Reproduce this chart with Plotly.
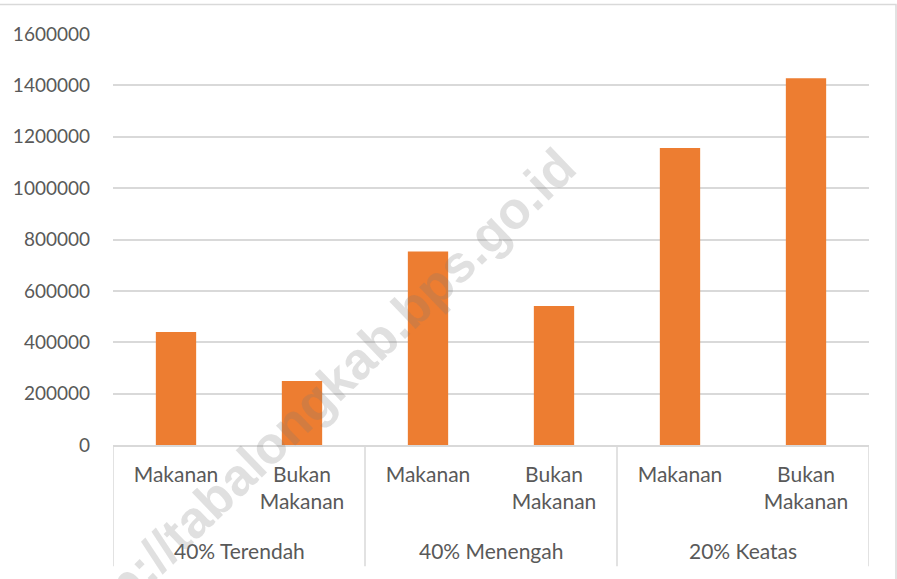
import plotly.graph_objects as go

groups = ["40% Terendah", "40% Menengah", "20% Keatas"]
items = ["Makanan", "Bukan<br>Makanan"]
values = [440000, 249000, 753000, 541000, 1156000, 1428000]
y_ticks = [0, 200000, 400000, 600000, 800000, 1000000, 1200000, 1400000, 1600000]
watermark = "http://tabalongkab.bps.go.id"

x_pos = list(range(len(values)))
tick_text = [it for g in groups for it in items]

FONT = "Lato"
TXT = "#595959"
GRID = "#d9d9d9"

# pixel geometry helpers
L, R, T, B = 113, 28, 33.5, 133.5
W, H = 897, 579
pw, ph = W - L - R, H - T - B
def px(xp): return (xp - L) / pw
def py(yp): return (H - B - yp) / ph

fig = go.Figure()
fig.add_trace(go.Bar(x=x_pos, y=values, width=0.32,
                     marker=dict(color="#ED7D31", line=dict(width=0)),
                     hoverinfo="y"))

shapes = []
for d in [-0.5, 1.5, 3.5, 5.5]:
    shapes.append(dict(type="line", xref="x", yref="paper", x0=d, x1=d,
                       y0=0, y1=py(567), line=dict(color=GRID, width=1.5)))
shapes.append(dict(type="rect", xref="paper", yref="paper",
                   x0=px(-5), x1=px(896), y0=py(590), y1=py(4),
                   line=dict(color=GRID, width=1.5), fillcolor="rgba(0,0,0,0)", layer="below"))

annotations = []
for i, g in enumerate(groups):
    annotations.append(dict(x=2 * i + 0.5, y=py(551), xref="x", yref="paper",
                            text=g, showarrow=False, yanchor="middle",
                            font=dict(family=FONT, size=21, color=TXT)))
annotations.append(dict(x=px(316), y=py(400), xref="paper", yref="paper",
                        text="<b>" + watermark + "</b>", showarrow=False,
                        textangle=-44, xanchor="center", yanchor="middle",
                        font=dict(family="Liberation Sans", size=52,
                                  color="rgba(120,120,120,0.23)")))

fig.update_layout(
    width=W, height=H,
    margin=dict(l=L, r=R, t=T, b=B, pad=0),
    paper_bgcolor="white", plot_bgcolor="white",
    showlegend=False,
    font=dict(family=FONT, size=21, color=TXT),
    shapes=shapes, annotations=annotations,
    xaxis=dict(range=[-0.5, 5.5], tickmode="array", tickvals=x_pos,
               ticktext=tick_text, showgrid=False, zeroline=False,
               showline=True, linecolor=GRID, linewidth=1.5,
               ticks="", ticklabelstandoff=10,
               tickfont=dict(family=FONT, size=21, color=TXT)),
    yaxis=dict(range=[0, 1600000], tickmode="array", tickvals=y_ticks,
               ticktext=[str(v) for v in y_ticks],
               showgrid=True, gridcolor=GRID, gridwidth=1.5,
               zeroline=False, showline=False, ticks="",
               ticklabelstandoff=22,
               tickfont=dict(family=FONT, size=19, color=TXT)),
)

fig.write_html("out.html", config={"displayModeBar": False},
               post_script="document.body.style.margin='0';document.body.style.overflow='hidden';")
